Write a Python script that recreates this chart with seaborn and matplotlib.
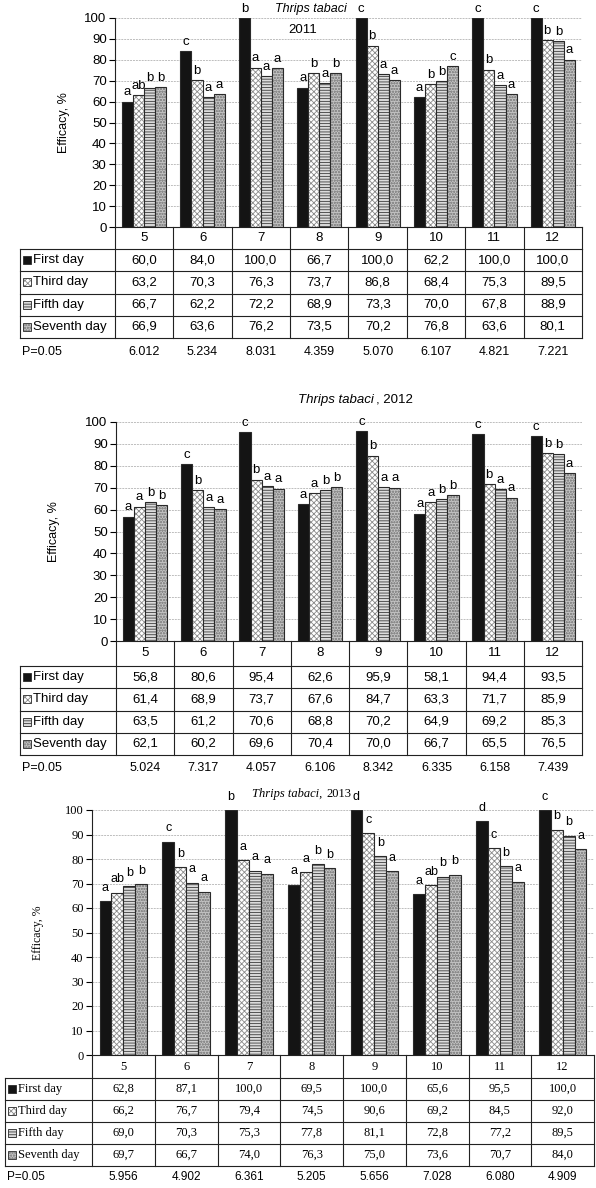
import numpy as np
import pandas as pd
import matplotlib
matplotlib.use("Agg")
import matplotlib.pyplot as plt
import matplotlib.colors as mcolors
import seaborn as sns
from matplotlib.lines import Line2D
from matplotlib.patches import Rectangle

# ---------------- data ----------------
variants = ["5", "6", "7", "8", "9", "10", "11", "12"]
days = ["First day", "Third day", "Fifth day", "Seventh day"]

first_2011 = [60.0, 84.0, 100.0, 66.7, 100.0, 62.2, 100.0, 100.0]
third_2011 = [63.2, 70.3, 76.3, 73.7, 86.8, 68.4, 75.3, 89.5]
fifth_2011 = [66.7, 62.2, 72.2, 68.9, 73.3, 70.0, 67.8, 88.9]
seventh_2011 = [66.9, 63.6, 76.2, 73.5, 70.2, 76.8, 63.6, 80.1]
p05_2011 = ["6.012", "5.234", "8.031", "4.359", "5.070", "6.107", "4.821", "7.221"]
let_first_2011 = ["a", "c", "b", "a", "c", "a", "c", "c"]
let_third_2011 = ["ab", "b", "a", "b", "b", "b", "b", "b"]
let_fifth_2011 = ["b", "a", "a", "a", "a", "b", "a", "b"]
let_seventh_2011 = ["b", "a", "a", "b", "a", "c", "a", "a"]

first_2012 = [56.8, 80.6, 95.4, 62.6, 95.9, 58.1, 94.4, 93.5]
third_2012 = [61.4, 68.9, 73.7, 67.6, 84.7, 63.3, 71.7, 85.9]
fifth_2012 = [63.5, 61.2, 70.6, 68.8, 70.2, 64.9, 69.2, 85.3]
seventh_2012 = [62.1, 60.2, 69.6, 70.4, 70.0, 66.7, 65.5, 76.5]
p05_2012 = ["5.024", "7.317", "4.057", "6.106", "8.342", "6.335", "6.158", "7.439"]
let_first_2012 = ["a", "c", "c", "a", "c", "a", "c", "c"]
let_third_2012 = ["a", "b", "b", "a", "b", "a", "b", "b"]
let_fifth_2012 = ["b", "a", "a", "b", "a", "b", "a", "b"]
let_seventh_2012 = ["b", "a", "a", "b", "a", "b", "a", "a"]

first_2013 = [62.8, 87.1, 100.0, 69.5, 100.0, 65.6, 95.5, 100.0]
third_2013 = [66.2, 76.7, 79.4, 74.5, 90.6, 69.2, 84.5, 92.0]
fifth_2013 = [69.0, 70.3, 75.3, 77.8, 81.1, 72.8, 77.2, 89.5]
seventh_2013 = [69.7, 66.7, 74.0, 76.3, 75.0, 73.6, 70.7, 84.0]
p05_2013 = ["5.956", "4.902", "6.361", "5.205", "5.656", "7.028", "6.080", "4.909"]
let_first_2013 = ["a", "c", "b", "a", "d", "a", "d", "c"]
let_third_2013 = ["ab", "b", "a", "a", "c", "ab", "c", "b"]
let_fifth_2013 = ["b", "a", "a", "b", "b", "b", "b", "b"]
let_seventh_2013 = ["b", "a", "a", "b", "a", "b", "a", "a"]

# ---------------- figure ----------------
W, H = 596, 1188
fig = plt.figure(figsize=(W / 100, H / 100), dpi=100)
plt.rcParams["hatch.linewidth"] = 0.6

SANS = "Liberation Sans"
SERIF = "Liberation Serif"

styles = [
    dict(fc="#141414", hatch=None, hc="#333333"),
    dict(fc="#ffffff", hatch="xxxxxx", hc="#8a8a8a"),
    dict(fc="#dcdcdc", hatch="------", hc="#3c3c3c"),
    dict(fc="#c2c2c2", hatch="oooooo", hc="#8c8c8c"),
]
EDGE = "#2a2a2a"


def fx(x):
    return x / W


def fy(y):
    return 1 - y / H


def fline(x0, y0, x1, y1):
    fig.add_artist(Line2D([fx(x0), fx(x1)], [fy(y0), fy(y1)],
                          transform=fig.transFigure, color="#222222", lw=0.8))


def style_patch(p, st):
    p.set_facecolor(st["fc"])
    p.set_edgecolor(EDGE)
    if st["hatch"]:
        p.set_hatch(st["hatch"])
        p._hatch_color = mcolors.to_rgba(st["hc"])


def make_df(vals):
    rows = []
    for day, arr in zip(days, vals):
        for v, val in zip(variants, arr):
            rows.append((v, day, val))
    return pd.DataFrame(rows, columns=["variant", "day", "efficacy"])


def panel(vals, letters, p05, ax_box, tab_left, row_bounds, p_y, ylab_x,
          font, let_off, fs=9.5):
    l, t, r, b = ax_box
    ax = fig.add_axes([fx(l), fy(b), (r - l) / W, (b - t) / H])
    df = make_df(vals)
    sns.barplot(data=df, x="variant", y="efficacy", hue="day", order=variants,
                hue_order=days, palette=[s["fc"] for s in styles], width=0.76,
                errorbar=None, legend=False, saturation=1, ax=ax,
                edgecolor=EDGE, linewidth=0.8)
    for cont, st in zip(ax.containers, styles):
        for p in cont:
            style_patch(p, st)
    for cont, lets in zip(ax.containers, letters):
        for p, s in zip(cont, lets):
            ax.text(p.get_x() + p.get_width() / 2, p.get_height() + let_off, s,
                    ha="center", va="bottom", fontsize=fs, family=SANS,
                    clip_on=False)
    ax.set_ylim(0, 100)
    ax.set_xlim(-0.5, 7.5)
    ax.set_yticks(range(0, 101, 10))
    ax.set_yticklabels([str(v) for v in range(0, 101, 10)], family=font,
                       fontsize=fs)
    ax.tick_params(axis="y", length=4, width=0.8, pad=2)
    ax.tick_params(axis="x", bottom=False, labelbottom=False)
    ax.set_xlabel("")
    ax.set_ylabel("Efficacy, %", family=font, fontsize=fs - 0.5)
    ax.yaxis.set_label_coords((ylab_x - l) / (r - l), 0.5)
    for sp in ["top", "right", "bottom"]:
        ax.spines[sp].set_visible(False)
    ax.spines["left"].set_linewidth(0.8)
    ax.spines["left"].set_color("#222222")
    ax.yaxis.grid(True, color="#bdbdbd", lw=0.7, ls=(0, (2, 1)))
    ax.set_axisbelow(True)

    # ---- table ----
    xs = [l + i * (r - l) / 8 for i in range(9)]
    hb = row_bounds[0]
    fline(l, b, r, b)
    for x in xs:
        fline(x, b, x, hb)
    for y in row_bounds:
        fline(tab_left, y, r, y)
    for x in [tab_left] + xs:
        fline(x, hb, x, row_bounds[-1])
    for i, v in enumerate(variants):
        fig.text(fx((xs[i] + xs[i + 1]) / 2), fy((b + hb) / 2), v,
                 ha="center", va="center", family=font, fontsize=fs)
    for k, (day, arr) in enumerate(zip(days, vals)):
        yc = (row_bounds[k] + row_bounds[k + 1]) / 2
        sq = 8
        rect = Rectangle((fx(tab_left + 3), fy(yc + sq / 2)), sq / W, sq / H,
                         transform=fig.transFigure, lw=0.6)
        style_patch(rect, styles[k])
        fig.add_artist(rect)
        fig.text(fx(tab_left + 13), fy(yc), day, ha="left", va="center",
                 family=font, fontsize=fs)
        for i, val in enumerate(arr):
            fig.text(fx((xs[i] + xs[i + 1]) / 2), fy(yc),
                     f"{val:.1f}".replace(".", ","), ha="center", va="center",
                     family=font, fontsize=fs)
    fig.text(fx(tab_left + 2), fy(p_y), "P=0.05", ha="left", va="center",
             family=SANS, fontsize=fs - 0.5)
    for i, s in enumerate(p05):
        fig.text(fx((xs[i] + xs[i + 1]) / 2), fy(p_y), s, ha="center",
                 va="center", family=SANS, fontsize=fs - 0.5)
    return ax


# Panel 2011
panel([first_2011, third_2011, fifth_2011, seventh_2011],
      [let_first_2011, let_third_2011, let_fifth_2011, let_seventh_2011],
      p05_2011, (115, 18, 582, 227), 20,
      [249, 271.3, 293.6, 315.9, 338], 352, 70, SANS, 1.5)
fig.text(fx(311), fy(9), "Thrips tabaci", ha="center", va="center",
         family=SANS, style="italic", fontsize=9)
fig.text(fx(303), fy(30), "2011", ha="center", va="center",
         family=SANS, fontsize=9.5)

# Panel 2012
panel([first_2012, third_2012, fifth_2012, seventh_2012],
      [let_first_2012, let_third_2012, let_fifth_2012, let_seventh_2012],
      p05_2012, (116, 422, 582, 641), 20,
      [666, 688, 710.5, 733, 755], 768, 60, SANS, 1.5)
fig.text(fx(374), fy(400), "Thrips tabaci", ha="right", va="center",
         family=SANS, style="italic", fontsize=9.5)
fig.text(fx(376), fy(400), ", 2012", ha="left", va="center",
         family=SANS, fontsize=9.5)

# Panel 2013
panel([first_2013, third_2013, fifth_2013, seventh_2013],
      [let_first_2013, let_third_2013, let_fifth_2013, let_seventh_2013],
      p05_2013, (92, 810, 594, 1055), 5,
      [1078, 1100, 1122, 1144, 1166], 1177, 44, SERIF, 3.0, fs=9)
fig.text(fx(322), fy(794), "Thrips tabaci,", ha="right", va="center",
         family=SERIF, style="italic", fontsize=9)
fig.text(fx(326), fy(794), "2013", ha="left", va="center",
         family=SERIF, fontsize=9)

fig.savefig("out.png", dpi=100)
